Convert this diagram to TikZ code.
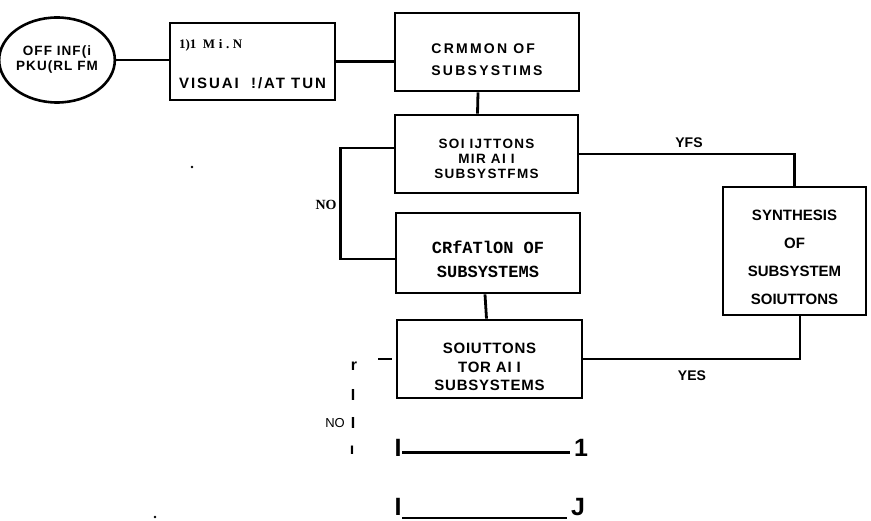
\documentclass[tikz,border=0pt]{standalone}
\usepackage{fontspec}
\setmainfont{Liberation Sans}
\newfontfamily\monofnt{Liberation Mono}
\newfontfamily\seriffnt{Liberation Serif}
\usepackage{tikz}
\usetikzlibrary{shapes.geometric,calc}
\newcommand{\padtop}[1]{\rule{0pt}{#1}}

\begin{document}
\begin{tikzpicture}[x=1pt, y=-1pt,
      blk/.style={draw, line width=2.8pt, inner sep=0pt, align=center,
                  font=\fontsize{15}{18.5}\selectfont\bfseries\addfontfeatures{LetterSpace=5}},
      ring/.style={draw, ellipse, line width=2.6pt, inner sep=0pt,
                   minimum width=101, minimum height=85, align=center,
                   font=\fontsize{13.5}{15}\selectfont\bfseries\addfontfeatures{LetterSpace=8}},
      lnk/.style={line width=2.8pt},
      lbl/.style={inner sep=0pt, font=\fontsize{14}{14}\selectfont\bfseries},
      tickmk/.style={inner sep=0pt, font=\fontsize{16}{16}\selectfont\bfseries},
      big/.style={inner sep=0pt, font=\fontsize{25}{25}\selectfont\bfseries}
  ]
    \useasboundingbox (0,0) rectangle (871,521);
    % blocks
    \node[ring] (prob) at (57,60) {OFF INF(i\\PKU(RL FM};
    \node[blk, minimum width=165, minimum height=77, align=left,
          font=\fontsize{15}{18.5}\selectfont\bfseries\addfontfeatures{LetterSpace=13}]
          (vis) at (252.5,61.5)
          {{\seriffnt\fontsize{13}{13}\selectfont\padtop{14pt}1)1 \ M\;i\;.\;N}\\[21pt]VISUAI \ !/AT TUN};
    \node[blk, minimum width=184, minimum height=78, align=left,
          font=\fontsize{14}{22}\selectfont\bfseries\addfontfeatures{LetterSpace=16}]
          (comm) at (487,52) {\padtop{26pt}CRMMON OF\\SUBSYSTIMS};
    \node[blk, minimum width=183, minimum height=78,
          font=\fontsize{13.5}{15}\selectfont\bfseries\addfontfeatures{LetterSpace=10}]
          (sol1) at (486.5,154) {\padtop{20pt}SOI IJTTONS\\MIR AI I\\SUBSYSTFMS};
    \node[blk, minimum width=184, minimum height=80,
          font=\monofnt\fontsize{17}{24}\selectfont\bfseries]
          (cre) at (488,253) {\padtop{25pt}CRfATlON OF\\SUBSYSTEMS};
    \node[blk, minimum width=185, minimum height=78] (sol2) at (489.5,359)
          {\padtop{27pt}SOIUTTONS\\TOR AI I\\SUBSYSTEMS};
    \node[blk, minimum width=143, minimum height=128,
          font=\fontsize{15}{28}\selectfont\bfseries] (syn) at (794.5,251)
          {\padtop{23pt}SYNTHESIS\\OF\\SUBSYSTEM\\SOIUTTONS};
    % links
    \draw[lnk] (prob.east) -- (vis.west |- prob.east);
    \draw[lnk] (vis.east) -- (vis.east -| comm.west);
    \draw[lnk] ([xshift=-9pt]comm.south) -- ([xshift=-9pt]sol1.north);
    \draw[lnk] ([xshift=-3pt]cre.south) -- ([xshift=-3pt]sol2.north);
    \draw[lnk] ([yshift=6pt]sol1.west) -- ++(-53,0) |- ([yshift=-6pt]cre.west);
    \draw[lnk] (sol1.east) -| (syn.north);
    \draw[lnk] ([xshift=5.5pt]syn.south) |- (sol2.east);
    \coordinate (d1) at (378,359);
    \coordinate (d2) at (392,359);
    \draw[lnk] (d1) -- (d2);
    % labels
    \node[lbl, font=\seriffnt\fontsize{14}{14}\selectfont\bfseries] (no1) at (326,205) {NO};
    \node[lbl] (yfs) at (689,143) {YFS};
    \node[lbl] (yes) at (692,376) {YES};
    \node[tickmk] (m1) at (354,366) {r};
    \node[tickmk] (m2) at (353,395) {I};
    \node[tickmk, font=\fontsize{13}{13}\selectfont] (no2) at (335,423) {NO};
    \node[tickmk] (m3) at (353,423) {I};
    \node[tickmk] (m4) at (352,450) {ı};
    \node[big] (i1) at (398,448) {I};
    \node[big] (one) at (581,448) {1};
    \node[big] (i2) at (398,507) {I};
    \node[big] (jj) at (578,507) {J};
    \coordinate (r1) at (402,453);
    \coordinate (r2) at (570,453);
    \draw[line width=3pt] (r1) -- (r2);
    \coordinate (u1) at (402,518);
    \coordinate (u2) at (567,518);
    \draw[line width=1.4pt] (u1) -- (u2);
    \fill (192,167) circle (1.3);
    \fill (155,517) circle (1.3);
  \end{tikzpicture}
\end{document}
